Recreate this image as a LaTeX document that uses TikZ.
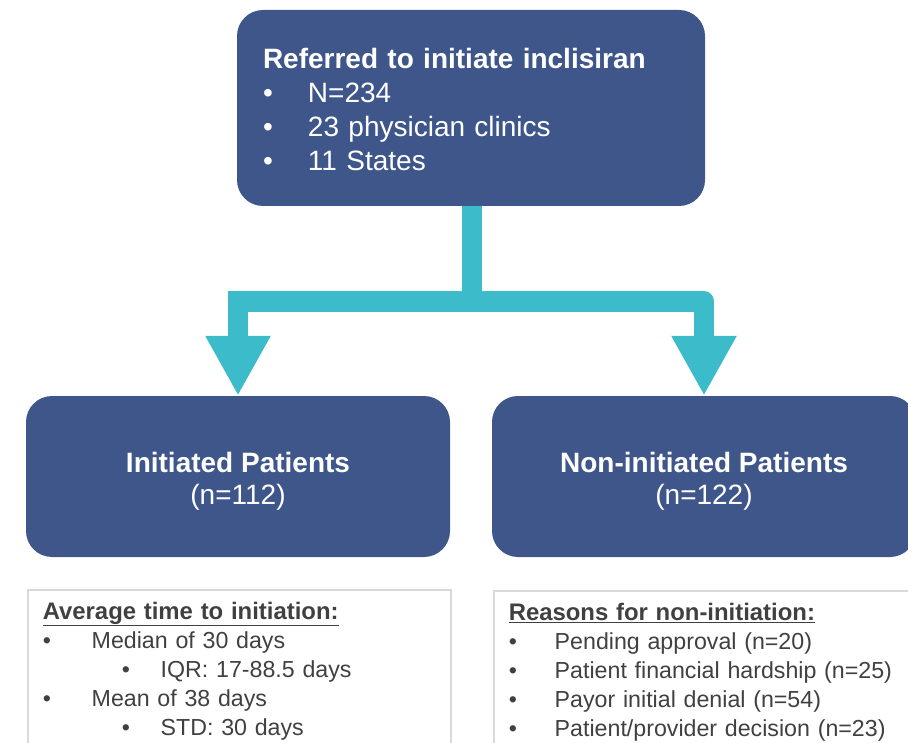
\documentclass[tikz,border=0pt]{standalone}
\usepackage{fontspec}
\setmainfont{Liberation Sans}
\usetikzlibrary{arrows.meta}

\definecolor{boxblue}{HTML}{3F568A}
\definecolor{linkteal}{HTML}{3CBCCA}
\definecolor{notegray}{HTML}{404040}
\definecolor{noteline}{HTML}{D9D9D9}

% bullet followed by its text, #1 is the gap to the text
\newcommand{\bul}[2][45pt]{\makebox[#1][l]{\textbullet}#2}
% underlined heading of a detail box
\newcommand{\notehead}[1]{{\fontsize{23.9}{29.2}\selectfont\underline{\textbf{#1}}}}

\tikzset{
    bluebox/.style={fill=boxblue, rounded corners=26pt, text=white, inner sep=0pt},
    notebox/.style={draw=noteline, line width=1.5pt, text=notegray, anchor=north west,
        align=left, inner xsep=15pt, inner ysep=12pt, font=\fontsize{23.2}{29.2}\selectfont},
    link/.style={draw=linkteal, line width=20.5pt, -{Triangle[width=61pt,length=60pt]}}
}

\begin{document}
\begin{tikzpicture}[x=1pt, y=-1pt]
        \useasboundingbox (0,0) rectangle (908,743);
        % referral box on top
        \node[bluebox, minimum width=468pt, minimum height=196pt, text width=416pt, align=left,
            font=\fontsize{28}{33.9}\selectfont] (ref) at (471,108)
            {\rule{0pt}{23pt}\textbf{Referred to initiate inclisiran}\\
             \bul{N=234}\\
             \bul{23 physician clinics}\\
             \bul{11 States}};
        % the two outcome boxes
        \node[bluebox, minimum width=424pt, minimum height=161pt, align=center,
            font=\fontsize{28}{32}\selectfont] (init) at (238,476.5)
            {\rule{0pt}{29pt}\textbf{Initiated Patients}\\(n=112)};
        \node[bluebox, minimum width=424pt, minimum height=161pt, align=center,
            font=\fontsize{28}{32}\selectfont] (noninit) at (704,476.5)
            {\rule{0pt}{29pt}\textbf{Non-initiated Patients}\\(n=122)};
        % split arrows
        \coordinate (fork) at (472,301.5);
        \draw[link] (ref.south -| fork) -- (fork) -| (init.north);
        \draw[link, line join=round] (fork) -| (noninit.north);
        % detail boxes below
        \node[notebox, text width=393pt] (timing) at (27,589)
            {\notehead{Average time to initiation:}\\
             \bul[49pt]{Median of 30 days}\\
             \hspace*{79pt}\bul[39pt]{IQR: 17-88.5 days}\\
             \bul[49pt]{Mean of 38 days}\\
             \hspace*{79pt}\bul[39pt]{STD: 30 days}};
        \node[notebox, text width=420pt] (reasons) at (493,590)
            {\notehead{Reasons for non-initiation:}\\
             \bul[46pt]{Pending approval (n=20)}\\
             \bul[46pt]{Patient financial hardship (n=25)}\\
             \bul[46pt]{Payor initial denial (n=54)}\\
             \bul[46pt]{Patient/provider decision (n=23)}};
\end{tikzpicture}
\end{document}
